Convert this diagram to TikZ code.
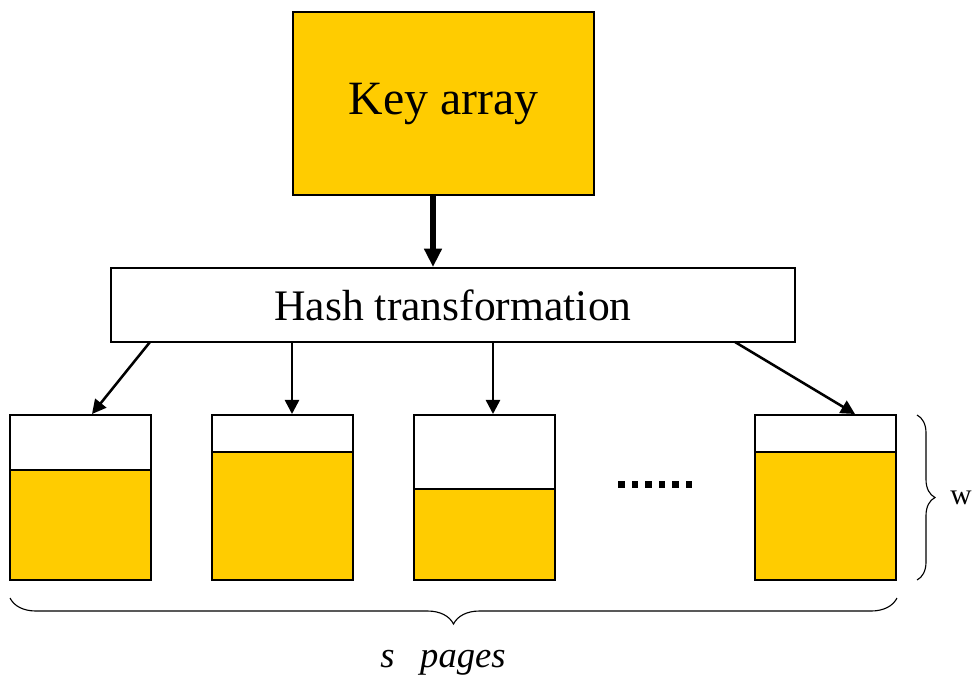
\documentclass[tikz,border=0pt]{standalone}
\usepackage{fontspec}
\setmainfont{Liberation Serif}
\usepackage{xcolor}
\usetikzlibrary{arrows.meta,decorations.pathreplacing}
\definecolor{gold}{HTML}{FFCC00}

\begin{document}
\begin{tikzpicture}[x=0.025cm,y=-0.025cm,
  box/.style={draw,line width=1.4pt,inner sep=0pt},
  page/.style={box,minimum width=3.525cm,minimum height=4.125cm},
  link/.style={line width=1.8pt,-{Triangle[length=10pt,width=10pt]}}]
\useasboundingbox (0,0) rectangle (973,680);
% key array and hash
\node[box,fill=gold,minimum width=7.525cm,minimum height=4.575cm,
  font=\fontsize{34}{40}\selectfont] (key) at (443.5,103.5) {Key array};
\node[box,minimum width=17.1cm,minimum height=1.85cm,
  font=\fontsize{31}{36}\selectfont] (hash) at (453,305) {Hash transformation};
\draw[line width=3.6pt,-{Triangle[length=13pt,width=12pt]}] (key.south -| 433,0) -- (hash.north -| 433,0);
% pages, filled part first
\filldraw[fill=gold,line width=1.4pt] (10,470) rectangle (151,580);
\filldraw[fill=gold,line width=1.4pt] (212,452) rectangle (353,580);
\filldraw[fill=gold,line width=1.4pt] (414,489) rectangle (555,580);
\filldraw[fill=gold,line width=1.4pt] (755,452) rectangle (896,580);
\node[page] (p1) at (80.5,497.5) {};
\node[page] (p2) at (282.5,497.5) {};
\node[page] (p3) at (484.5,497.5) {};
\node[page] (p4) at (825.5,497.5) {};
\coordinate (h1) at (150,342);
\coordinate (h4) at (735,342);
\coordinate (t1) at (92,414);
\coordinate (t4) at (855,414);
\draw[link] (h1) -- (t1);
\draw[link] (hash.south -| 292,0) -- (p2.north -| 292,0);
\draw[link] (hash.south -| 493,0) -- (p3.north -| 493,0);
\draw[link] (h4) -- (t4);
% dots
\foreach \i in {0,...,5}
  \fill (618+\i*13.5,481) rectangle ++(6.5,7);
% braces
\draw[line width=0.8pt,decorate,decoration={brace,amplitude=0.45cm}] (917,415) -- (917,580)
  node[midway,xshift=0.7cm,anchor=west,font=\fontsize{21}{24}\selectfont] (w) {w};
\draw[line width=0.8pt,decorate,decoration={brace,amplitude=0.65cm}] (897,598) -- (10,598);
\node[font=\fontsize{26}{30}\selectfont\itshape] (s) at (443,663) {s\hspace{0.7em}pages};
\end{tikzpicture}
\end{document}
